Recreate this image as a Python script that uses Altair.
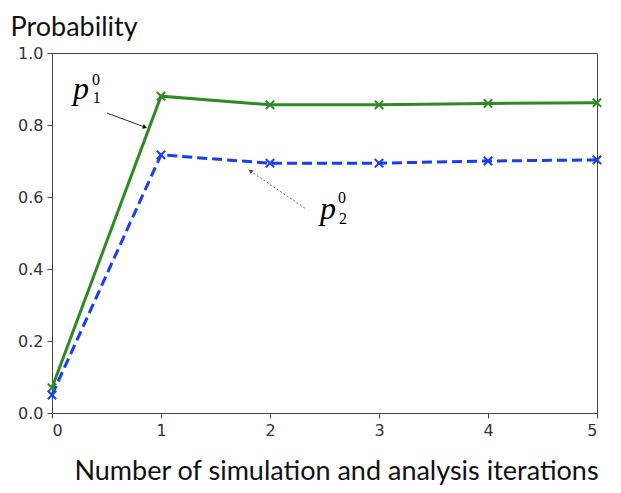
import altair as alt
import pandas as pd

iterations = [0, 1, 2, 3, 4, 5]
p1_values = [0.07, 0.880, 0.856, 0.856, 0.860, 0.862]
p2_values = [0.05, 0.717, 0.694, 0.694, 0.700, 0.703]

# annotation labels (data coordinates)
big_text = ["p", "p"]
big_x = [0.266, 2.532]
big_y = [0.872, 0.539]
small_text = ["0", "1", "0", "2"]
small_x = [0.404, 0.410, 2.66, 2.67]
small_y = [0.925, 0.875, 0.597, 0.539]

# arrows: tail -> head
arrow_x = [0.505, 2.32]
arrow_y = [0.833, 0.569]
arrow_x2 = [0.853, 1.82]
arrow_y2 = [0.794, 0.672]
arrow_angle = [20, 214]
arrow_color = ["#111111", "#555555"]

df1 = pd.DataFrame({"it": iterations, "prob": p1_values})
df2 = pd.DataFrame({"it": iterations, "prob": p2_values})

x_enc = alt.X(
    "it:Q",
    scale=alt.Scale(domain=[0, 5], nice=False, zero=False),
    axis=alt.Axis(
        values=iterations, format="d",
        title="Number of simulation and analysis iterations",
        titleX=284, titleY=66, titleAlign="center", titleBaseline="alphabetic",
    ),
)
y_enc = alt.Y(
    "prob:Q",
    scale=alt.Scale(domain=[0, 1], nice=False),
    axis=alt.Axis(
        values=[0, 0.2, 0.4, 0.6, 0.8, 1.0], format=".1f",
        title="Probability", titleAngle=0, titleX=-42, titleY=-18,
        titleAlign="left", titleBaseline="alphabetic",
    ),
)

xshape = "M-1,-1L1,1M-1,1L1,-1"

green = "#2f8a24"
blue = "#1a3cf5"

line1 = alt.Chart(df1).mark_line(color=green, strokeWidth=3).encode(x=x_enc, y=y_enc)
pts1 = alt.Chart(df1).mark_point(shape=xshape, color=green, size=70, strokeWidth=2, filled=False, opacity=1).encode(x="it:Q", y="prob:Q")
line2 = alt.Chart(df2).mark_line(color=blue, strokeWidth=3, strokeDash=[10, 5]).encode(x="it:Q", y="prob:Q")
pts2 = alt.Chart(df2).mark_point(shape=xshape, color=blue, size=70, strokeWidth=2, filled=False, opacity=1).encode(x="it:Q", y="prob:Q")

big_df = pd.DataFrame({"t": big_text, "x": big_x, "y": big_y})
small_df = pd.DataFrame({"t": small_text, "x": small_x, "y": small_y})
arrow_df = pd.DataFrame({"x": arrow_x, "y": arrow_y, "x2": arrow_x2, "y2": arrow_y2,
                         "a": arrow_angle, "c": arrow_color})

big_txt = alt.Chart(big_df).mark_text(font="Liberation Serif", fontStyle="italic", fontSize=32,
                                       baseline="alphabetic", align="center", color="black").encode(
    x="x:Q", y="y:Q", text="t:N")
small_txt = alt.Chart(small_df).mark_text(font="Liberation Serif", fontSize=16,
                                           baseline="middle", align="center", color="black").encode(
    x="x:Q", y="y:Q", text="t:N")

arrow1 = alt.Chart(arrow_df.iloc[[0]]).mark_rule(strokeWidth=0.9, color="#111111").encode(
    x="x:Q", y="y:Q", x2="x2:Q", y2="y2:Q")
arrow2 = alt.Chart(arrow_df.iloc[[1]]).mark_rule(strokeWidth=0.9, color="#555555", strokeDash=[2, 2]).encode(
    x="x:Q", y="y:Q", x2="x2:Q", y2="y2:Q")
heads = alt.Chart(arrow_df).mark_point(shape="triangle-right", filled=True, size=25, opacity=1).encode(
    x="x2:Q", y="y2:Q", angle=alt.Angle("a:Q", scale=None), color=alt.Color("c:N", scale=None))

chart = alt.layer(line1, line2, pts1, pts2, arrow1, arrow2, heads, big_txt, small_txt).properties(
    width=545, height=360,
    padding={"left": 44, "top": 45, "right": 12, "bottom": 72},
    autosize=alt.AutoSizeParams(type="none"),
).configure_view(stroke="#444444", strokeWidth=1).configure_axis(
    grid=False, domainColor="#444444", tickColor="#444444", tickSize=5,
    labelFont="DejaVu Sans", labelFontSize=16, labelColor="#333333", labelPadding=4,
    titleFont="Lato", titleFontSize=27, titleFontWeight="normal", titleColor="#111111",
)

chart.save("out.html", embed_options={"renderer": "svg", "actions": False})
